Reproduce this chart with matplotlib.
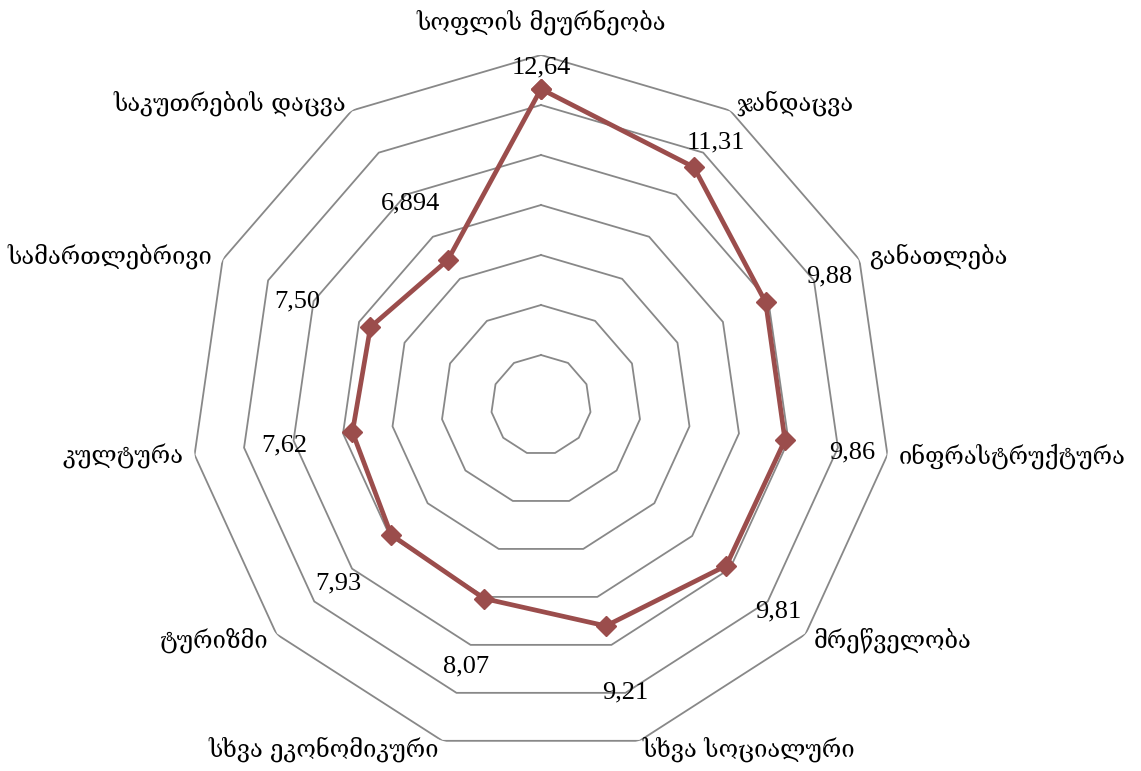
import matplotlib
matplotlib.use("Agg")
import matplotlib.pyplot as plt
import numpy as np

# ---- data ----
categories = ["სოფლის მეურნეობა", "ჯანდაცვა", "განათლება", "ინფრასტრუქტურა",
              "მრეწველობა", "სხვა სოციალური", "სხვა ეკონომიკური", "ტურიზმი",
              "კულტურა", "სამართლებრივი", "საკუთრების დაცვა"]
values = [12.64, 11.31, 9.88, 9.86, 9.81, 9.21, 8.07, 7.93, 7.62, 7.50, 6.894]
value_text = ["12,64", "11,31", "9,88", "9,86", "9,81", "9,21", "8,07",
              "7,93", "7,62", "7,50", "6,894"]
rings = [2, 4, 6, 8, 10, 12, 14]

# value-label placement (angle in degrees clockwise from top, radius in data units)
val_pos = [(0, 13.5), (33.7, 12.6), (66, 12.6), (98.7, 12.6), (131, 12.6),
           (163.7, 12.0), (196, 10.9), (228.6, 10.8), (261, 10.4),
           (293, 10.6), (327, 9.6)]

line_c = "#9b4d4c"
grid_c = "#888888"
geo_font = ["DejaVu Serif", "DejaVu Sans"]
num_font = ["Liberation Serif", "DejaVu Serif"]

W, H, DPI = 1141, 771, 100
fig = plt.figure(figsize=(W / DPI, H / DPI), dpi=DPI)
cx, cy, R = 541, 405, 350
ax = fig.add_axes([(cx - R) / W, (H - cy - R) / H, 2 * R / W, 2 * R / H],
                  projection="polar")
ax.set_theta_zero_location("N")
ax.set_theta_direction(-1)
ax.set_ylim(0, 14)
ax.grid(False)
ax.spines["polar"].set_visible(False)
ax.set_xticks([])
ax.set_yticks([])
ax.patch.set_visible(False)

n = len(categories)
th = np.arange(n) * 2 * np.pi / n
thc = np.append(th, th[0])

for r in rings:
    ax.plot(thc, [r] * (n + 1), color=grid_c, lw=1.3, zorder=1)

v = np.append(values, values[0])
ax.plot(thc, v, color=line_c, lw=3.4, marker="D", ms=10, mfc=line_c,
        mec=line_c, zorder=3, clip_on=False)

# category labels just outside the outer ring
for t, lab in zip(th, categories):
    s, c = np.sin(t), np.cos(t)
    if abs(s) < 0.1:
        ha = "center"
    elif s > 0:
        ha = "left"
    else:
        ha = "right"
    dx = 11 * s
    dy = 9 * c + (24 if c > 0.99 else 0)
    ax.annotate(lab, (t, 14), xytext=(dx, dy), textcoords="offset pixels",
                ha=ha, va="center", fontsize=17, family=geo_font,
                annotation_clip=False)

for (a, r), txt in zip(val_pos, value_text):
    ax.text(np.deg2rad(a), r, txt, ha="center", va="center", fontsize=19,
            family=num_font, zorder=4)

fig.savefig("out.png", dpi=DPI, facecolor="white")
